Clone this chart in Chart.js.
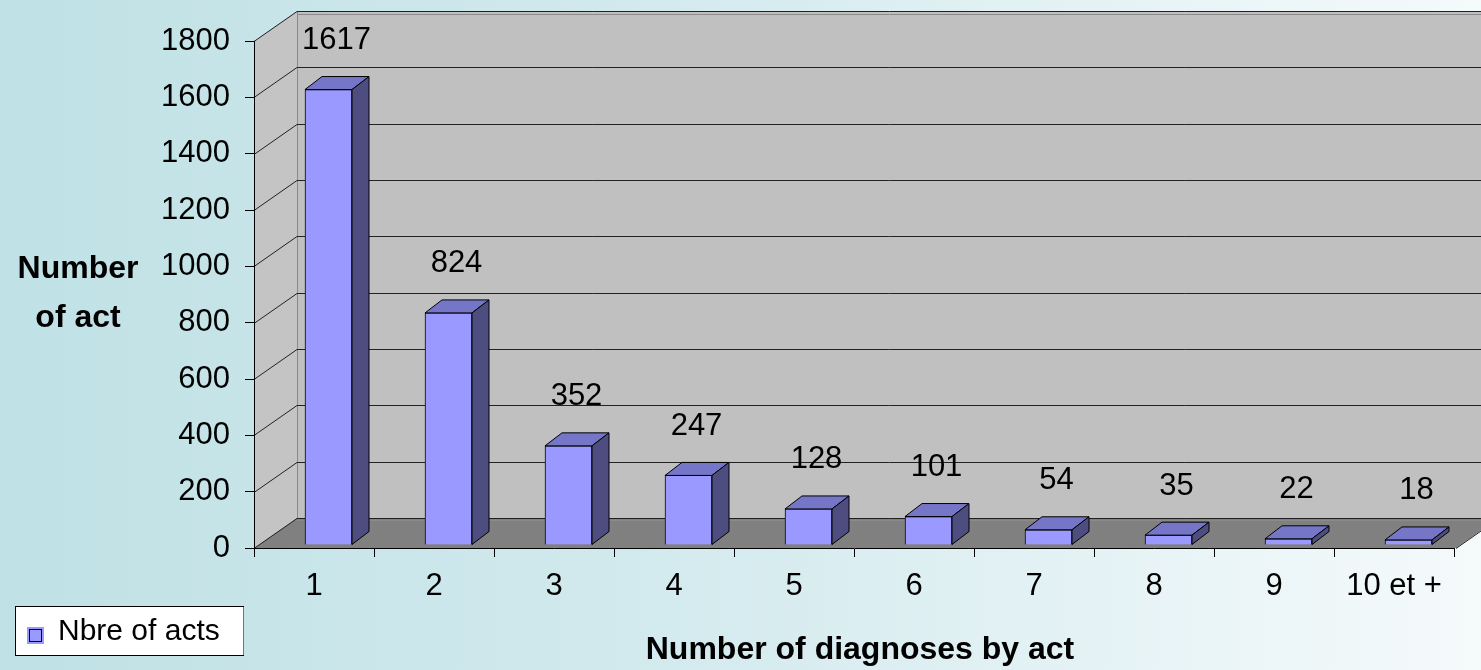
<!DOCTYPE html>
<html>
<head>
<meta charset="utf-8">
<title>Number of diagnoses by act</title>
<script src="https://cdn.jsdelivr.net/npm/chart.js@4.4.1/dist/chart.umd.min.js"></script>
<style>
  html, body { margin: 0; padding: 0; }
  body {
    width: 1481px; height: 670px; overflow: hidden;
    background: linear-gradient(90deg, #bfe1e5 0%, #d3eaee 45%, #f5fafb 100%);
  }
  canvas { display: block; }
</style>
</head>
<body>
<canvas id="diagChart" width="1481" height="670"></canvas>
<script>
// Data
const categories = ['1', '2', '3', '4', '5', '6', '7', '8', '9', '10 et +'];
const actCounts = [1617, 824, 352, 247, 128, 101, 54, 35, 22, 18];
const yTickValues = [0, 200, 400, 600, 800, 1000, 1200, 1400, 1600, 1800];
const seriesName = 'Nbre of acts';
const yTitleLines = ['Number', 'of act'];
const xTitle = 'Number of diagnoses by act';

// 3D look (walls depth, bar placement and bar depth)
const DEPTH_X = 43, DEPTH_Y = -30;
const BAR_SHIFT_X = 14.5, BAR_SHIFT_Y = -3;
const BAR_DX = 17, BAR_DY = -13;
const FONT = "'Liberation Sans', Arial, sans-serif";

Chart.defaults.font.family = FONT;
Chart.defaults.font.size = 31;
Chart.defaults.color = '#000';

function poly(ctx, pts, fill) {
  ctx.beginPath();
  ctx.moveTo(pts[0][0], pts[0][1]);
  pts.slice(1).forEach(p => ctx.lineTo(p[0], p[1]));
  ctx.closePath();
  if (fill) { ctx.fillStyle = fill; ctx.fill(); }
  ctx.stroke();
}

// Walls, floor and gridlines
const walls = {
  id: 'walls',
  beforeDraw(chart) {
    const { ctx, chartArea: a, scales: { y } } = chart;
    const x0 = a.left, x1 = a.right + 2, top = a.top, bot = a.bottom;
    const bx = x0 + DEPTH_X, by = bot + DEPTH_Y, bt = top + DEPTH_Y;
    const right = chart.width + 50;
    ctx.save();
    ctx.fillStyle = '#c0c0c0';
    ctx.fillRect(bx, bt, right - bx, by - bt);
    ctx.beginPath();
    ctx.moveTo(x0, bot); ctx.lineTo(x0, top); ctx.lineTo(bx, bt); ctx.lineTo(bx, by);
    ctx.closePath();
    ctx.fillStyle = '#c4c4c4';
    ctx.fill();
    // floor
    ctx.beginPath();
    ctx.moveTo(x0, bot); ctx.lineTo(x1, bot); ctx.lineTo(x1 + DEPTH_X, by); ctx.lineTo(bx, by);
    ctx.closePath();
    ctx.fillStyle = '#808080';
    ctx.fill();

    ctx.lineWidth = 1;
    ctx.strokeStyle = '#8a8a8a';
    ctx.beginPath();
    ctx.moveTo(bx + 0.5, bt); ctx.lineTo(bx + 0.5, by);
    ctx.moveTo(bx, bt + 3.5); ctx.lineTo(right, bt + 3.5);
    ctx.moveTo(bx, by + 2.5); ctx.lineTo(right, by + 2.5);
    ctx.stroke();

    ctx.strokeStyle = '#222';
    ctx.beginPath();
    yTickValues.forEach(v => {
      const py = Math.round(y.getPixelForValue(v)) + 0.5;
      ctx.moveTo(x0, py);
      ctx.lineTo(bx, py + DEPTH_Y);
      ctx.lineTo(right, py + DEPTH_Y);
    });
    ctx.moveTo(x1, bot + 0.5);
    ctx.lineTo(x1 + DEPTH_X, by + 0.5);
    ctx.stroke();
    ctx.restore();
  }
};

// Bar tops, sides and value labels
const bars3d = {
  id: 'bars3d',
  beforeDatasetsDraw(chart) {
    chart.ctx.save();
    chart.ctx.translate(BAR_SHIFT_X, BAR_SHIFT_Y);
  },
  afterDatasetsDraw(chart) {
    const ctx = chart.ctx;
    const meta = chart.getDatasetMeta(0);
    ctx.lineWidth = 1;
    ctx.strokeStyle = '#000';
    meta.data.forEach(bar => {
      const { x, y, base, width } = bar.getProps(['x', 'y', 'base', 'width'], true);
      const l = x - width / 2, r = x + width / 2;
      poly(ctx, [[l, y], [r, y], [r + BAR_DX, y + BAR_DY], [l + BAR_DX, y + BAR_DY]], '#7676c8');
      poly(ctx, [[r, y], [r + BAR_DX, y + BAR_DY], [r + BAR_DX, base + BAR_DY], [r, base]], '#4d4d80');
    });
    ctx.restore();

    ctx.save();
    ctx.font = '31px ' + FONT;
    ctx.fillStyle = '#000';
    ctx.textAlign = 'center';
    ctx.textBaseline = 'middle';
    meta.data.forEach((bar, i) => {
      ctx.fillText(String(actCounts[i]), bar.x + BAR_SHIFT_X + 8, bar.y + BAR_SHIFT_Y - 49);
    });
    ctx.restore();
  }
};

// Axis titles and legend box
const decor = {
  id: 'decor',
  afterDraw(chart) {
    const { ctx, chartArea: a } = chart;
    ctx.save();
    ctx.fillStyle = '#000';
    ctx.textAlign = 'center';
    ctx.textBaseline = 'middle';
    ctx.font = 'bold 32px ' + FONT;
    yTitleLines.forEach((t, i) => ctx.fillText(t, 78, 269 + i * 49));
    ctx.fillText(xTitle, (a.left + a.right) / 2 + 6, 650);

    // legend
    ctx.fillStyle = '#fff';
    ctx.fillRect(15, 606, 229, 50);
    ctx.lineWidth = 1;
    ctx.strokeStyle = '#000';
    ctx.strokeRect(15.5, 606.5, 228, 49);
    ctx.strokeStyle = '#777';
    ctx.beginPath();
    ctx.moveTo(243.5, 607); ctx.lineTo(243.5, 655);
    ctx.stroke();
    ctx.fillStyle = '#9999ff';
    ctx.fillRect(27, 627, 17, 17);
    ctx.strokeStyle = '#000';
    ctx.strokeRect(29.5, 629.5, 12, 12);
    ctx.fillStyle = '#000';
    ctx.textAlign = 'left';
    ctx.font = '30px ' + FONT;
    ctx.fillText(seriesName, 58, 632);
    ctx.restore();
  }
};

new Chart(document.getElementById('diagChart'), {
  type: 'bar',
  data: {
    labels: categories,
    datasets: [{
      label: seriesName,
      data: actCounts,
      backgroundColor: '#9999ff',
      borderColor: '#000',
      borderWidth: 1,
      barThickness: 47,
      clip: false
    }]
  },
  options: {
    responsive: false,
    animation: false,
    layout: { padding: { top: 41, right: 27, left: 0, bottom: 0 } },
    plugins: {
      legend: { display: false },
      tooltip: { enabled: false }
    },
    scales: {
      x: {
        grid: { drawOnChartArea: false, drawTicks: true, tickLength: 9, color: '#000', offset: true },
        border: { display: true, color: '#000' },
        ticks: { font: { size: 31 }, padding: 11, maxRotation: 0, autoSkip: false },
        afterFit(s) { s.height = 122; }
      },
      y: {
        min: 0,
        max: 1800,
        afterBuildTicks(s) { s.ticks = yTickValues.map(v => ({ value: v })); },
        grid: { drawOnChartArea: false, drawTicks: true, tickLength: 9, color: '#000' },
        border: { display: true, color: '#000' },
        ticks: { font: { size: 31 }, padding: 15, callback: v => String(v) },
        afterFit(s) { s.width = 254; }
      }
    }
  },
  plugins: [walls, bars3d, decor]
});
</script>
</body>
</html>
